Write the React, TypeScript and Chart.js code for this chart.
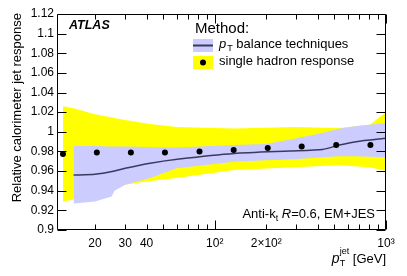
import React, { useEffect, useRef } from 'react';
import { Chart, registerables } from 'chart.js';

Chart.register(...registerables);

const FONT = "'Liberation Sans', Arial, Helvetica, sans-serif";

// single hadron response (points + yellow band)
const singleHadronPt = [13, 20.5, 32.4, 51.2, 81.5, 129, 204, 322, 512, 811];
const singleHadronResponse = [0.9775, 0.979, 0.979, 0.979, 0.98, 0.9815, 0.9835, 0.985, 0.9866, 0.9866];
const singleHadronBandPt = [13, 15, 20, 26, 30, 42, 60, 130, 290, 530, 800, 1000];
const singleHadronBandHigh = [1.026, 1.024, 1.018, 1.014, 1.012, 1.008, 1.005, 1.0035, 1.005, 1.004, 1.007, 1.02];
const singleHadronBandLow = [0.929, 0.931, 0.937, 0.942, 0.946, 0.95, 0.953, 0.961, 0.964, 0.966, 0.964, 0.96];

// pT balance techniques (line + blue band)
const ptBalancePt = [15, 20, 26, 30, 42, 62, 130, 273, 426, 534, 671, 1000];
const ptBalanceResponse = [0.956, 0.9567, 0.96, 0.9628, 0.968, 0.9723, 0.978, 0.9805, 0.982, 0.9865, 0.99, 0.9934];
const ptBalanceBandPt = [15, 20, 25, 26, 30, 42, 60, 130, 200, 290, 430, 530, 670, 1000];
const ptBalanceBandHigh = [0.9856, 0.9855, 0.985, 0.985, 0.985, 0.9845, 0.984, 0.9866, 0.9876, 0.993, 0.999, 1.003, 1.006, 1.009];
const ptBalanceBandLow = [0.927, 0.929, 0.934, 0.94, 0.946, 0.953, 0.963, 0.9696, 0.971, 0.972, 0.974, 0.975, 0.975, 0.974];

// axes
const xTickValues = [20, 30, 40, 100, 200, 1000];
const xTickLabels = ['20', '30', '40', '10\u00B2', '2\u00D710\u00B2', '10\u00B3'];
const yTickValues = [0.9, 0.92, 0.94, 0.96, 0.98, 1.0, 1.02, 1.04, 1.06, 1.08, 1.1, 1.12];
const yTickLabels = ['0.9', '0.92', '0.94', '0.96', '0.98', '1', '1.02', '1.04', '1.06', '1.08', '1.1', '1.12'];

const YELLOW = '#ffff00';
const BLUE = '#ccccff';
const LINE = '#3a3a60';

const zip = (xs: number[], ys: number[]) => xs.map((x, i) => ({ x, y: ys[i] }));

const decor = {
  id: 'decor',
  afterDraw(chart: any) {
    const { ctx, chartArea: a, scales } = chart;
    const xs = scales.x;
    const ys = scales.y;
    const L = Math.round(a.left) + 0.5;
    const R = Math.round(a.right) - 0.5;
    const T = Math.round(a.top) + 0.5;
    const B = Math.round(a.bottom) - 0.5;
    ctx.save();
    ctx.strokeStyle = '#000';
    ctx.lineWidth = 1;
    ctx.beginPath();
    ctx.rect(L, T, R - L, B - T);
    ctx.stroke();

    // y ticks (inside, both sides)
    ctx.beginPath();
    yTickValues.forEach((v) => {
      const py = Math.round(ys.getPixelForValue(v)) + 0.5;
      ctx.moveTo(L, py);
      ctx.lineTo(L + 9, py);
      ctx.moveTo(R, py);
      ctx.lineTo(R - 9, py);
    });
    // x ticks (inside, top and bottom)
    const minor: number[] = [];
    [10, 100].forEach((d) => {
      for (let m = 2; m <= 9; m++) minor.push(m * d);
    });
    minor.forEach((v) => {
      if (v < xs.min || v > xs.max) return;
      const px = Math.round(xs.getPixelForValue(v)) + 0.5;
      ctx.moveTo(px, B);
      ctx.lineTo(px, B - 5);
      ctx.moveTo(px, T);
      ctx.lineTo(px, T + 5);
    });
    [100, 1000].forEach((v) => {
      const px = Math.round(xs.getPixelForValue(v)) + 0.5;
      ctx.moveTo(px, B);
      ctx.lineTo(px, B - 9);
      ctx.moveTo(px, T);
      ctx.lineTo(px, T + 9);
    });
    ctx.stroke();

    ctx.fillStyle = '#000';
    ctx.textBaseline = 'alphabetic';

    // y title
    ctx.save();
    ctx.translate(17, 13);
    ctx.rotate(-Math.PI / 2);
    ctx.textAlign = 'right';
    ctx.textBaseline = 'middle';
    ctx.font = `13px ${FONT}`;
    ctx.fillText('Relative calorimeter jet response', 0, 0);
    ctx.restore();

    // x title: p_T^jet [GeV]
    ctx.textAlign = 'left';
    const xr = 386;
    const base = 263;
    ctx.font = `13px ${FONT}`;
    const gev = ' [GeV]';
    const wGev = ctx.measureText(gev).width;
    ctx.font = `9px ${FONT}`;
    const wJet = ctx.measureText('jet').width;
    const wT = ctx.measureText('T').width;
    const wSup = Math.max(wJet, wT);
    ctx.font = `italic 14px ${FONT}`;
    const wp = ctx.measureText('p').width;
    let cx = xr - wGev - wSup - wp;
    ctx.fillText('p', cx, base);
    cx += wp;
    ctx.font = `9px ${FONT}`;
    ctx.fillText('jet', cx, base - 9);
    ctx.fillText('T', cx, base + 3);
    cx += wSup;
    ctx.font = `13px ${FONT}`;
    ctx.fillText(gev, cx, base);

    // ATLAS
    ctx.font = `bold italic 12.5px ${FONT}`;
    ctx.fillText('ATLAS', 69, 29);

    // Legend
    ctx.font = `15px ${FONT}`;
    ctx.fillText('Method:', 195, 33);
    ctx.fillStyle = BLUE;
    ctx.fillRect(193, 39, 20, 13);
    ctx.strokeStyle = LINE;
    ctx.lineWidth = 2;
    ctx.beginPath();
    ctx.moveTo(193, 45.5);
    ctx.lineTo(213, 45.5);
    ctx.stroke();
    ctx.fillStyle = YELLOW;
    ctx.fillRect(193, 56, 20, 13);
    ctx.fillStyle = '#000';
    ctx.beginPath();
    ctx.arc(203, 62.5, 3, 0, Math.PI * 2);
    ctx.fill();

    let lx = 219;
    ctx.font = `italic 13px ${FONT}`;
    ctx.fillText('p', lx, 48);
    lx += ctx.measureText('p').width + 1;
    ctx.font = `9px ${FONT}`;
    ctx.fillText('T', lx, 51);
    lx += ctx.measureText('T').width;
    ctx.font = `13px ${FONT}`;
    ctx.fillText(' balance techniques', lx, 48);
    ctx.fillText('single hadron response', 219, 65);

    // Anti-kt R=0.6, EM+JES
    const ab = 218;
    ctx.font = `13px ${FONT}`;
    const w1 = ctx.measureText('Anti-k').width;
    ctx.font = `9px ${FONT}`;
    const w2 = ctx.measureText('t').width;
    ctx.font = `13px ${FONT}`;
    const w3 = ctx.measureText(' ').width;
    ctx.font = `italic 13px ${FONT}`;
    const w4 = ctx.measureText('R').width;
    ctx.font = `13px ${FONT}`;
    const w5 = ctx.measureText('=0.6, EM+JES').width;
    let ax = 375 - (w1 + w2 + w3 + w4 + w5);
    ctx.fillText('Anti-k', ax, ab);
    ax += w1;
    ctx.font = `9px ${FONT}`;
    ctx.fillText('t', ax, ab + 3);
    ax += w2 + w3;
    ctx.font = `italic 13px ${FONT}`;
    ctx.fillText('R', ax, ab);
    ax += w4;
    ctx.font = `13px ${FONT}`;
    ctx.fillText('=0.6, EM+JES', ax, ab);

    ctx.restore();
  },
};

export default function App() {
  const ref = useRef<HTMLCanvasElement | null>(null);

  useEffect(() => {
    const canvas = ref.current;
    if (!canvas) return;
    const chart = new Chart(canvas, {
      type: 'line',
      data: {
        datasets: [
          {
            label: 'single hadron response',
            data: zip(singleHadronPt, singleHadronResponse),
            showLine: false,
            pointRadius: 3,
            pointBackgroundColor: '#000',
            pointBorderColor: '#000',
            pointBorderWidth: 0,
          },
          {
            label: 'pT balance techniques',
            data: zip(ptBalancePt, ptBalanceResponse),
            borderColor: LINE,
            borderWidth: 1.5,
            pointRadius: 0,
            fill: false,
            tension: 0.2,
          },
          {
            label: 'pT balance high',
            data: zip(ptBalanceBandPt, ptBalanceBandHigh),
            borderWidth: 0,
            borderColor: 'rgba(0,0,0,0)',
            pointRadius: 0,
            backgroundColor: BLUE,
            fill: '+1',
          },
          {
            label: 'pT balance low',
            data: zip(ptBalanceBandPt, ptBalanceBandLow),
            borderWidth: 0,
            borderColor: 'rgba(0,0,0,0)',
            pointRadius: 0,
            fill: false,
          },
          {
            label: 'single hadron high',
            data: zip(singleHadronBandPt, singleHadronBandHigh),
            borderWidth: 0,
            borderColor: 'rgba(0,0,0,0)',
            pointRadius: 0,
            backgroundColor: YELLOW,
            fill: '+1',
          },
          {
            label: 'single hadron low',
            data: zip(singleHadronBandPt, singleHadronBandLow),
            borderWidth: 0,
            borderColor: 'rgba(0,0,0,0)',
            pointRadius: 0,
            fill: false,
          },
        ],
      },
      options: {
        animation: false,
        responsive: false,
        devicePixelRatio: 1,
        events: [],
        layout: { padding: { left: 0, top: 14, right: 21, bottom: 0 } },
        plugins: {
          legend: { display: false },
          tooltip: { enabled: false },
          title: { display: false },
        },
        scales: {
          x: {
            type: 'logarithmic',
            min: 12,
            max: 1000,
            grid: { display: false, drawTicks: false },
            border: { display: false },
            afterBuildTicks: (scale: any) => {
              scale.ticks = xTickValues.map((v) => ({ value: v }));
            },
            afterFit: (scale: any) => {
              scale.height = 46;
            },
            ticks: {
              autoSkip: false,
              maxRotation: 0,
              padding: 6,
              color: '#000',
              font: { family: FONT, size: 12 },
              callback: (v: any) => {
                const i = xTickValues.indexOf(Number(v));
                return i >= 0 ? xTickLabels[i] : '';
              },
            },
          },
          y: {
            type: 'linear',
            min: 0.9,
            max: 1.12,
            grid: { display: false, drawTicks: false },
            border: { display: false },
            afterBuildTicks: (scale: any) => {
              scale.ticks = yTickValues.map((v) => ({ value: v }));
            },
            afterFit: (scale: any) => {
              scale.width = 57;
            },
            ticks: {
              autoSkip: false,
              padding: 3,
              color: '#000',
              font: { family: FONT, size: 12 },
              callback: (v: any) => {
                const i = yTickValues.findIndex((t) => Math.abs(t - Number(v)) < 1e-6);
                return i >= 0 ? yTickLabels[i] : '';
              },
            },
          },
        },
      },
      plugins: [decor],
    } as any);
    return () => chart.destroy();
  }, []);

  return (
    <canvas
      ref={ref}
      width={407}
      height={276}
      style={{ position: 'fixed', left: 0, top: 0, width: 407, height: 276, background: '#fff' }}
    />
  );
}
